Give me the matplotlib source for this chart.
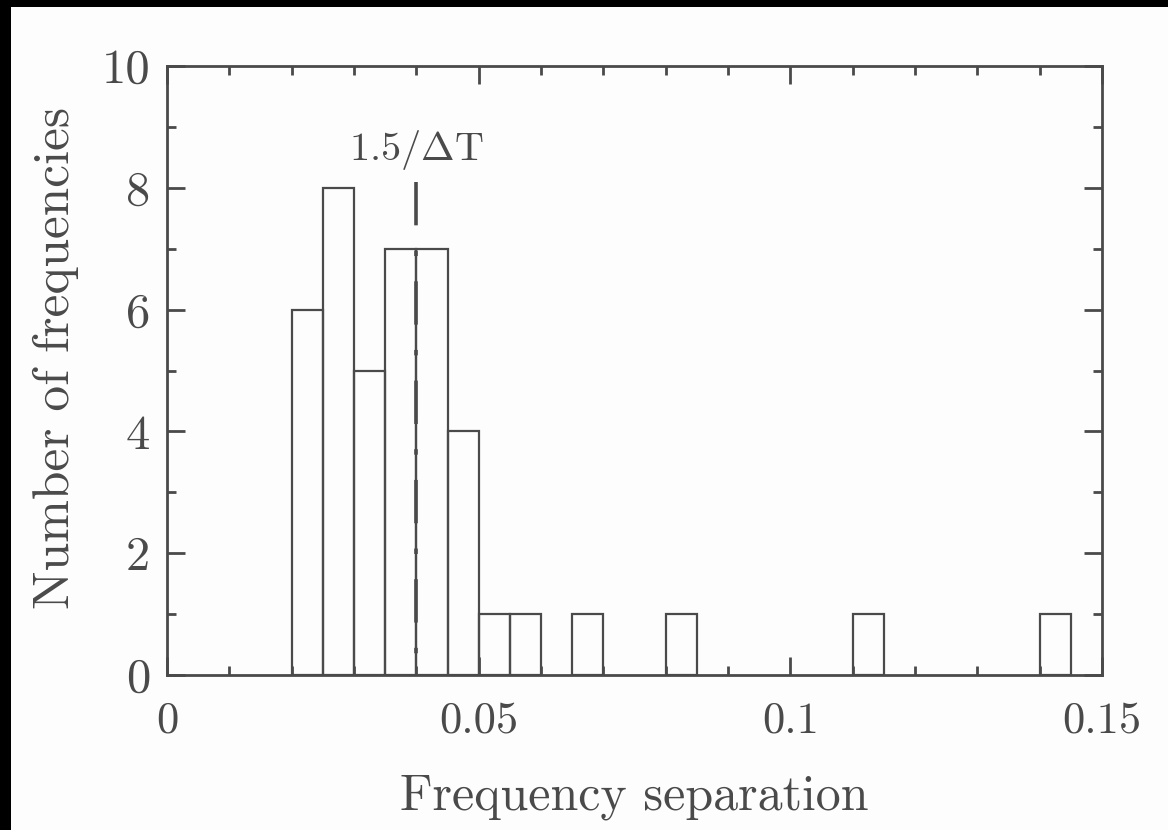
import matplotlib
matplotlib.use("Agg")
import matplotlib.pyplot as plt
from matplotlib.patches import Rectangle
from matplotlib.ticker import MultipleLocator, FuncFormatter

# histogram of frequency separations
bin_left = [0.020, 0.025, 0.030, 0.035, 0.040, 0.045, 0.050, 0.055, 0.065, 0.080, 0.110, 0.140]
counts = [6, 8, 5, 7, 7, 4, 1, 1, 1, 1, 1, 1]
bin_width = 0.005

marker_x = 0.04
marker_label = r"1.5/$\Delta$T"

ink = "#4a4a4a"
plt.rcParams["font.family"] = ["cmr10", "DejaVu Serif"]
plt.rcParams["mathtext.fontset"] = "cm"
plt.rcParams["axes.formatter.use_mathtext"] = True
plt.rcParams["axes.unicode_minus"] = False

fig = plt.figure(figsize=(11.68, 8.30), dpi=100, facecolor="black")
# scanned page (black scanner border on the left and top)
fig.patches.append(Rectangle((11 / 1168, 0), 1 - 11 / 1168, 1 - 7 / 830,
                             transform=fig.transFigure, facecolor="#fdfdfd",
                             edgecolor="none", zorder=-10))

ax = fig.add_axes([0.143, 0.1867, 0.8005, 0.7337])
ax.set_facecolor("none")

ax.bar(bin_left, counts, width=bin_width, align="edge", fill=False,
       edgecolor=ink, linewidth=1.6)

# 1.5/dT marker
ax.plot([marker_x, marker_x], [8.1, 0], color=ink, linewidth=2.6,
        linestyle=(0, (12, 7, 1.5, 7)))
ax.text(marker_x, 8.45, marker_label, ha="center", va="baseline",
        fontsize=29, color=ink)

ax.set_xlim(0, 0.15)
ax.set_ylim(0, 10)
ax.xaxis.set_major_locator(MultipleLocator(0.05))
ax.xaxis.set_minor_locator(MultipleLocator(0.01))
ax.yaxis.set_major_locator(MultipleLocator(2))
ax.yaxis.set_minor_locator(MultipleLocator(1))
ax.xaxis.set_major_formatter(FuncFormatter(lambda v, p: "%g" % round(v, 3)))
ax.yaxis.set_major_formatter(FuncFormatter(lambda v, p: "%d" % v))

for s in ax.spines.values():
    s.set_color(ink)
    s.set_linewidth(2.0)
ax.tick_params(which="both", direction="in", top=True, right=True,
               color=ink, width=2.0)
ax.tick_params(which="major", length=13)
ax.tick_params(which="minor", length=6.5)
ax.tick_params(axis="x", which="major", labelsize=32, pad=19, labelcolor=ink)
ax.tick_params(axis="y", which="major", labelsize=35, pad=12, labelcolor=ink)

ax.set_xlabel("Frequency separation", fontsize=36, color=ink)
ax.xaxis.set_label_coords(0.5, -0.163)
ax.set_ylabel("Number of frequencies", fontsize=37, color=ink)
ax.yaxis.set_label_coords(-0.094, 0.52)

fig.savefig("out.png", dpi=100, facecolor=fig.get_facecolor())
